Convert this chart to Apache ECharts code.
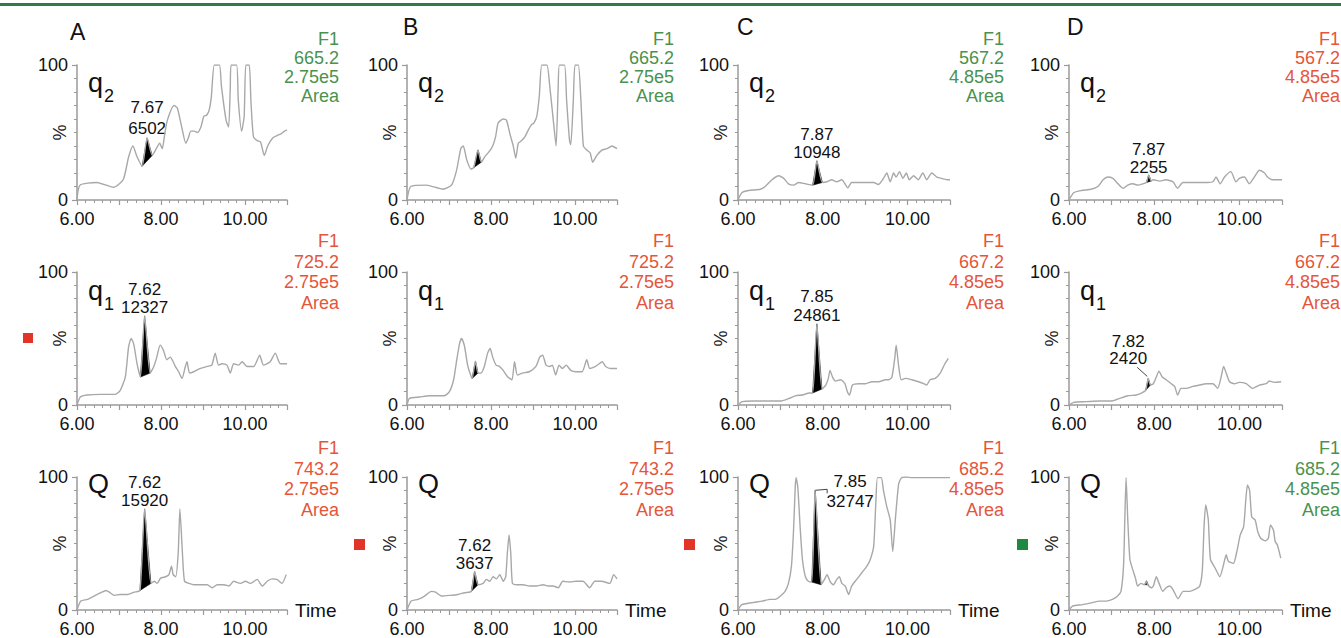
<!DOCTYPE html>
<html><head><meta charset="utf-8">
<script src="https://cdn.jsdelivr.net/npm/echarts@6/dist/echarts.min.js"></script>
<style>html,body{margin:0;padding:0;background:#fff}#chart{width:1341px;height:638px}</style>
</head><body><div id="chart"></div>
<script>
const FONT = '"Liberation Sans", Arial, Helvetica, sans-serif';

// ---- text / categories ----
const panelLetters = ['A', 'B', 'C', 'D'];
const traceMain = ['q', 'q', 'Q'];
const traceSub = ['2', '1', ''];
const timeTickLabels = ['6.00', '8.00', '10.00'];
const pctTickLabels = ['0', '100'];
const channel = 'F1';
const areaWord = 'Area';
const massA = ['665.2', '725.2', '743.2'];
const massB = ['665.2', '725.2', '743.2'];
const massC = ['567.2', '667.2', '685.2'];
const massD = ['567.2', '667.2', '685.2'];
const scaleA = ['2.75e5', '2.75e5', '2.75e5'];
const scaleB = ['2.75e5', '2.75e5', '2.75e5'];
const scaleC = ['4.85e5', '4.85e5', '4.85e5'];
const scaleD = ['4.85e5', '4.85e5', '4.85e5'];
const infoColA = ['g', 'r', 'r'];
const infoColB = ['g', 'r', 'r'];
const infoColC = ['g', 'r', 'r'];
const infoColD = ['r', 'r', 'g'];

// ---- chromatogram traces: [time (min), relative intensity %] ----
const A_q2 = [[6,0],[6.07,11],[6.47,13],[6.87,9.4],[7.1,15],[7.23,32],[7.33,40],[7.43,32],[7.55,25],[7.67,46],[7.79,33],[7.87,37],[7.97,42],[8.03,38],[8.09,49],[8.15,59],[8.31,70],[8.39,68],[8.5,53],[8.59,42],[8.65,46],[8.71,51],[8.79,51],[8.87,50],[8.95,54],[9.02,62],[9.09,63],[9.15,67],[9.2,77],[9.27,100],[9.39,100],[9.44,84],[9.55,59],[9.61,54],[9.65,84],[9.67,100],[9.8,100],[9.84,74],[9.92,51],[9.98,62],[10.02,100],[10.1,100],[10.14,74],[10.2,47],[10.29,44],[10.37,43],[10.46,33],[10.54,40],[10.66,46],[10.78,48],[10.86,49],[10.94,51],[11,52]];
const B_q2 = [[6,0],[6.09,10],[6.46,11],[6.86,8],[7.06,11],[7.18,22],[7.28,38],[7.34,40],[7.42,30],[7.52,23],[7.59,24],[7.69,37],[7.77,28],[7.85,32],[7.96,36],[8.04,40],[8.11,47],[8.17,57],[8.29,60],[8.37,59],[8.45,49],[8.53,40],[8.59,31],[8.65,42],[8.73,44],[8.81,47],[8.89,52],[8.97,56],[9.02,57],[9.09,62],[9.15,77],[9.21,100],[9.33,100],[9.4,84],[9.5,54],[9.55,40],[9.6,84],[9.63,100],[9.75,100],[9.8,74],[9.87,44],[9.9,41],[9.96,74],[10,100],[10.08,100],[10.14,74],[10.2,40],[10.28,37],[10.36,35],[10.42,28],[10.52,33],[10.64,37],[10.76,38],[10.88,40],[11,38]];
const C_q2 = [[6,0],[6.09,5.4],[6.25,7],[6.53,8],[6.64,10],[6.8,15],[6.96,18],[7.08,16],[7.19,12],[7.31,11],[7.43,13],[7.59,12],[7.76,11],[7.86,29],[7.99,13],[8.1,13.5],[8.21,15],[8.33,13.5],[8.45,15],[8.59,9],[8.68,13],[8.84,13],[9.0,13],[9.2,13],[9.31,11.5],[9.43,16],[9.51,20],[9.59,13.5],[9.67,20],[9.73,17],[9.81,21],[9.89,16],[9.97,20],[10.04,15],[10.14,18],[10.25,15],[10.36,20],[10.45,15],[10.57,20],[10.69,17],[10.8,16],[10.96,15],[11,15]];
const D_q2 = [[6,0],[6.11,5.4],[6.29,7],[6.52,8],[6.68,10],[6.8,15],[6.91,17],[7.03,16],[7.15,12],[7.27,8.6],[7.38,11],[7.5,12],[7.62,11],[7.73,12],[7.82,13],[7.87,18.5],[7.93,14],[7.97,15],[8.13,14],[8.28,15],[8.44,13.5],[8.55,8.6],[8.67,13],[8.83,13],[9.06,13],[9.26,13],[9.38,13.5],[9.45,17],[9.55,12],[9.65,17],[9.8,21],[9.92,13.5],[10,16],[10.12,17],[10.23,12],[10.35,17],[10.47,22],[10.59,20],[10.66,17],[10.78,15],[11,15]];
const A_q1 = [[6,0],[6.08,6],[6.24,7.5],[6.56,8],[6.91,8],[7.03,11],[7.15,21],[7.23,44],[7.29,50],[7.35,46],[7.43,31],[7.51,21],[7.61,67],[7.74,24],[7.83,29],[7.9,36],[7.98,45],[8.06,41],[8.14,34],[8.22,36],[8.29,32.5],[8.34,29],[8.42,25],[8.5,20],[8.58,29],[8.62,32.5],[8.68,24],[8.78,25],[8.94,27.5],[9.1,29],[9.21,30],[9.29,39],[9.37,30],[9.45,31],[9.57,30],[9.65,24],[9.73,31],[9.85,30],[9.93,32.5],[10.05,29],[10.21,29],[10.35,37.5],[10.44,30],[10.6,32.5],[10.72,39],[10.84,31],[11,31]];
const B_q1 = [[6,0],[6.06,5],[6.3,6],[6.54,7],[6.89,7],[7.01,10],[7.11,19],[7.17,31],[7.25,46],[7.3,50],[7.37,44],[7.45,29],[7.55,20],[7.63,33],[7.69,24],[7.76,24],[7.84,29],[7.92,39],[7.98,42.5],[8.04,36],[8.12,30],[8.2,29],[8.29,26],[8.4,21],[8.5,19],[8.56,32.5],[8.63,22.5],[8.75,24],[8.91,25],[9.07,29],[9.16,36],[9.23,37.5],[9.31,30],[9.4,29],[9.46,30],[9.54,22.5],[9.62,30],[9.7,27.5],[9.79,30],[9.9,26],[10.02,25],[10.17,25],[10.28,34],[10.35,27.5],[10.49,29],[10.65,32.5],[10.73,29],[10.85,27.5],[11,27.5]];
const C_q1 = [[6,0],[6.1,2.5],[6.35,3],[6.66,3],[7.02,3],[7.21,5],[7.37,7],[7.52,7.5],[7.68,9],[7.76,9],[7.86,61],[7.98,12],[8.07,15],[8.13,20],[8.17,26],[8.23,21],[8.3,18],[8.42,19],[8.52,16],[8.58,10],[8.63,7.5],[8.7,15],[8.85,16],[9.01,16],[9.16,17.5],[9.32,17.5],[9.48,19],[9.55,19],[9.63,21],[9.7,36],[9.73,45],[9.79,29],[9.85,19],[9.95,20],[10.1,19],[10.26,17.5],[10.38,16],[10.45,15],[10.53,19],[10.65,20],[10.77,24],[10.88,31],[10.96,35]];
const D_q1 = [[6,0],[6.11,2],[6.41,2.5],[6.72,3],[6.99,3],[7.19,5],[7.38,7],[7.58,7.5],[7.7,9],[7.8,11],[7.86,20],[7.91,15],[7.98,16],[8.05,21],[8.11,25.5],[8.19,21],[8.28,19],[8.4,16],[8.48,14],[8.55,7.5],[8.63,12.5],[8.75,12.5],[8.91,14],[9.06,15],[9.22,16],[9.38,16],[9.49,12.5],[9.57,21],[9.63,29],[9.69,24],[9.77,17.5],[9.88,16],[10,17],[10.16,16],[10.31,12.5],[10.47,15],[10.63,16],[10.7,18],[10.82,17],[10.98,17.5]];
const A_Q = [[6,0],[6.09,6.7],[6.25,8],[6.41,10.5],[6.57,13],[6.69,14.7],[6.77,13.4],[6.89,11],[7.04,11.7],[7.2,11.7],[7.36,13.4],[7.5,14.7],[7.61,76],[7.76,20],[7.84,21.6],[7.91,20],[7.99,24],[8.11,25],[8.19,26.6],[8.25,33],[8.29,26.6],[8.35,25],[8.41,43],[8.45,76],[8.51,43],[8.56,21.6],[8.67,20],[8.78,19],[8.94,19],[9.1,19],[9.22,16.7],[9.34,19],[9.5,19],[9.62,18],[9.73,21.6],[9.89,20],[10.01,21.6],[10.13,20],[10.29,23],[10.41,18],[10.53,21.6],[10.64,23.4],[10.76,23],[10.88,20],[10.98,26.6]];
const B_Q = [[6,0],[6.1,6.7],[6.26,8],[6.42,10.5],[6.58,14],[6.68,13.4],[6.82,10.5],[7.02,11],[7.21,11.7],[7.37,13],[7.53,14],[7.61,29],[7.69,19],[7.81,20],[7.89,23],[7.97,21.6],[8.05,25],[8.13,23.4],[8.21,26.6],[8.29,21.6],[8.35,25],[8.39,43],[8.43,56.5],[8.47,43],[8.51,20],[8.6,19],[8.76,19],[8.92,18],[9.08,18],[9.24,19],[9.36,18],[9.48,18],[9.6,16.7],[9.71,21.6],[9.87,21],[10.03,21.6],[10.19,21.6],[10.35,16.7],[10.47,21.6],[10.63,21.6],[10.83,20],[10.92,26.6],[11,23.4]];
const C_Q = [[6,0],[6.09,4],[6.33,5.5],[6.57,6.7],[6.76,8],[6.88,8],[7.0,10.5],[7.11,14],[7.19,20],[7.26,33],[7.31,60],[7.35,92.5],[7.37,99.5],[7.41,92.5],[7.47,60],[7.52,38],[7.59,25],[7.66,21.6],[7.74,21],[7.82,90],[7.96,19],[8.04,23],[8.1,26.6],[8.17,21.6],[8.25,19],[8.33,23],[8.39,25],[8.45,20],[8.53,18],[8.61,11.7],[8.68,18],[8.8,23],[8.92,28],[9.04,33],[9.12,38],[9.2,48],[9.25,80],[9.29,99.5],[9.38,99.5],[9.43,90],[9.51,77.6],[9.59,67.7],[9.65,44],[9.71,67.7],[9.79,95],[9.86,99.5],[9.98,100],[10.1,99.5],[11,99.5]];
const D_Q = [[6,0],[6.09,3],[6.31,4],[6.55,5.5],[6.71,6.7],[6.87,6.7],[7.02,8],[7.14,10.5],[7.22,14],[7.28,33],[7.31,67.7],[7.34,99.5],[7.38,67.7],[7.43,38],[7.5,30],[7.56,24],[7.61,18],[7.69,20],[7.77,19],[7.81,21.5],[7.85,19],[7.93,16.7],[7.98,18],[8.05,25],[8.11,20.4],[8.2,14],[8.28,16.7],[8.36,18],[8.44,15.4],[8.56,8.5],[8.68,14],[8.83,14],[8.99,16],[9.07,18],[9.13,30],[9.17,62.7],[9.21,79],[9.27,67.7],[9.32,38],[9.43,31.6],[9.54,25],[9.62,33],[9.69,41.5],[9.74,36.6],[9.86,35],[9.94,44],[10.02,56.5],[10.1,62.7],[10.15,82.6],[10.19,94],[10.24,90],[10.29,70],[10.37,67.7],[10.43,59],[10.5,54],[10.61,52],[10.68,54],[10.73,64],[10.8,60],[10.84,51.5],[10.89,49],[10.97,39]];

// ---- integrated (black) peaks: [t start, % start, t apex, % apex, t end, % end] ----
const peakA_q2 = [7.55,25, 7.67,46, 7.79,33];
const peakB_q2 = [7.59,24, 7.69,37, 7.77,28];
const peakC_q2 = [7.76,11, 7.86,29, 7.99,13];
const peakD_q2 = [7.82,13, 7.87,18.5, 7.93,14];
const peakA_q1 = [7.51,21, 7.61,67, 7.74,24];
const peakB_q1 = [7.55,20, 7.63,33, 7.69,24];
const peakC_q1 = [7.76,9, 7.86,61, 7.98,12];
const peakD_q1 = [7.8,11, 7.86,20, 7.91,15];
const peakA_Q = [7.5,14.7, 7.61,76, 7.76,20];
const peakB_Q = [7.53,14, 7.61,29, 7.69,19];
const peakC_Q = [7.74,21, 7.82,90, 7.96,19];
const peakD_Q = [7.79,19, 7.82,22, 7.86,19];

// ---- peak labels: [retention time, area] ----
const lblA_q2 = ['7.67', '6502'];
const lblC_q2 = ['7.87', '10948'];
const lblD_q2 = ['7.87', '2255'];
const lblA_q1 = ['7.62', '12327'];
const lblC_q1 = ['7.85', '24861'];
const lblD_q1 = ['7.82', '2420'];
const lblA_Q = ['7.62', '15920'];
const lblB_Q = ['7.62', '3637'];
const lblC_Q = ['7.85', '32747'];

// ---- layout ----
const colLeft = [77, 407, 738, 1069];
const colWidth = [210, 210, 212, 213];
const rowTop = [65, 272, 477];
const rowHeight = [135, 133, 134];
const infoRight = [339, 674, 1004, 1340];
const infoTop = [29, 231, 438];
const infoLH = [19, 20.5, 20.5];
const GREEN = '#4a924e', RED = '#e5553a';

const panels = [
  {c:0,r:0,d:A_q2,p:peakA_q2,l:lblA_q2,m:'top',lh:21},
  {c:1,r:0,d:B_q2,p:peakB_q2,l:null},
  {c:2,r:0,d:C_q2,p:peakC_q2,l:lblC_q2,m:'top',lh:18},
  {c:3,r:0,d:D_q2,p:peakD_q2,l:lblD_q2,m:'top',lh:18},
  {c:0,r:1,d:A_q1,p:peakA_q1,l:lblA_q1,m:'top',lh:18},
  {c:1,r:1,d:B_q1,p:peakB_q1,l:null},
  {c:2,r:1,d:C_q1,p:peakC_q1,l:lblC_q1,m:'top',lh:19},
  {c:3,r:1,d:D_q1,p:peakD_q1,l:lblD_q1,m:'left',lh:17},
  {c:0,r:2,d:A_Q,p:peakA_Q,l:lblA_Q,m:'top',lh:18},
  {c:1,r:2,d:B_Q,p:peakB_Q,l:lblB_Q,m:'top',lh:18},
  {c:2,r:2,d:C_Q,p:peakC_Q,l:lblC_Q,m:'right',lh:20},
  {c:3,r:2,d:D_Q,p:peakD_Q,l:null}
];
const masses = [massA, massB, massC, massD];
const scales = [scaleA, scaleB, scaleC, scaleD];
const infoCols = [infoColA, infoColB, infoColC, infoColD];

function peakRenderer(lines, mode, lh) {
  return function (params, api) {
    const a = api.coord([api.value(0), api.value(1)]);
    const b = api.coord([api.value(2), api.value(3)]);
    const c = api.coord([api.value(4), api.value(5)]);
    const ch = [{type:'polygon', shape:{points:[a,b,c]}, style:{fill:'#000', stroke:'#000', lineWidth:0.6}}];
    if (lines) {
      let tx = b[0], ty = b[1] + 1, va = 'bottom';
      if (mode === 'left') {
        tx = b[0] - 20; ty = b[1] - 11;
        ch.push({type:'line', shape:{x1:b[0]-11, y1:b[1]-11, x2:b[0]-1, y2:b[1]-2}, style:{stroke:'#444', lineWidth:1}});
      } else if (mode === 'right') {
        tx = b[0] + 35; ty = b[1] + 1; va = 'middle';
        ch.push({type:'polyline', shape:{points:[[b[0], b[1]], [b[0]+12, b[1]-1], [b[0]+12, b[1]+3]]}, style:{stroke:'#444', lineWidth:1, fill:null}});
      }
      ch.push({type:'text', style:{text: lines.join('\n'), x: tx, y: ty, align:'center', verticalAlign: va,
        fontSize: 17, fontFamily: FONT, lineHeight: lh, fill:'#111'}});
    }
    return {type:'group', children: ch};
  };
}

const grid = [], xAxis = [], yAxis = [], series = [], graphic = [];
const axisColor = '#9a9a9a';
panels.forEach((P, i) => {
  grid.push({left: colLeft[P.c], top: rowTop[P.r], width: colWidth[P.c], height: rowHeight[P.r]});
  xAxis.push({
    gridIndex: i, type: 'value', min: 6, max: 11, interval: 1,
    axisLine: {show: true, onZero: false, lineStyle: {color: axisColor, width: 1.5}},
    axisTick: {show: true, length: 5, lineStyle: {color: axisColor, width: 1.2}},
    minorTick: {show: true, splitNumber: 5, length: 3, lineStyle: {color: axisColor}},
    splitLine: {show: false},
    axisLabel: {
      formatter: v => timeTickLabels.find(s => Math.abs(parseFloat(s) - v) < 1e-9) || '',
      fontSize: 18, fontFamily: FONT, color: '#111', margin: 10, showMaxLabel: true
    },
    name: P.r === 2 ? 'Time' : '', nameLocation: 'end', nameGap: 8, nameMoveOverlap: false,
    nameTextStyle: {fontSize: 19, fontFamily: FONT, color: '#111', verticalAlign: 'middle', align: 'left'}
  });
  yAxis.push({
    gridIndex: i, type: 'value', min: 0, max: 100, interval: 100,
    axisLine: {show: true, lineStyle: {color: axisColor, width: 1.5}},
    axisTick: {show: true, length: 5, lineStyle: {color: axisColor, width: 1.2}},
    minorTick: {show: true, splitNumber: 10, length: 3, lineStyle: {color: axisColor}},
    splitLine: {show: false},
    axisLabel: {
      formatter: v => pctTickLabels.find(s => parseFloat(s) === v) || '',
      fontSize: 18, fontFamily: FONT, color: '#111', margin: 9
    },
    name: '%', nameLocation: 'middle', nameRotate: 90, nameGap: 8, nameMoveOverlap: false,
    nameTextStyle: {fontSize: 18, fontFamily: FONT, color: '#222'}
  });
  series.push({
    type: 'line', xAxisIndex: i, yAxisIndex: i, data: P.d, showSymbol: false, smooth: 0.2,
    lineStyle: {color: '#a8a8a8', width: 1.4}, silent: true, animation: false
  });
  series.push({
    type: 'custom', xAxisIndex: i, yAxisIndex: i, data: [P.p], clip: false,
    encode: {x: [0, 2, 4], y: [1, 3, 5]},
    renderItem: peakRenderer(P.l, P.m, P.lh), silent: true, animation: false
  });
  // trace name q2 / q1 / Q
  const mainY = [rowTop[0] + 17.6, rowTop[1] + 18.6, rowTop[2] + 6.6][P.r];
  const lx = colLeft[P.c] + 11;
  graphic.push({type: 'text', x: lx, y: mainY, style: {text: traceMain[P.r], fontSize: 27, fontFamily: FONT, fill: '#111', verticalAlign: 'middle', align: 'left'}});
  if (traceSub[P.r]) {
    graphic.push({type: 'text', x: lx + 16, y: mainY + 13, style: {text: traceSub[P.r], fontSize: 18, fontFamily: FONT, fill: '#111', verticalAlign: 'middle', align: 'left'}});
  }
  // channel info block
  const col = infoCols[P.c][P.r] === 'g' ? GREEN : RED;
  graphic.push({type: 'text', x: infoRight[P.c], y: infoTop[P.r], style: {
    text: [channel, masses[P.c][P.r], scales[P.c][P.r], areaWord].join('\n'),
    fontSize: 18, fontFamily: FONT, fill: col, align: 'right', verticalAlign: 'top', lineHeight: infoLH[P.r]}});
});

// panel letters
const letterX = [70, 403, 737, 1067];
const letterY = [32, 27, 27, 27];
panelLetters.forEach((t, k) => graphic.push({type: 'text', x: letterX[k], y: letterY[k], style: {text: t, fontSize: 23, fontFamily: FONT, fill: '#111', verticalAlign: 'middle', align: 'left'}}));
// top rule
graphic.push({type: 'rect', shape: {x: 0, y: 3, width: 1341, height: 3}, style: {fill: '#2f7a45'}});
// selection squares
graphic.push({type: 'rect', shape: {x: 23, y: 333, width: 10, height: 10}, style: {fill: '#e3342a'}});
graphic.push({type: 'rect', shape: {x: 354, y: 539, width: 11, height: 11}, style: {fill: '#e3342a'}});
graphic.push({type: 'rect', shape: {x: 684, y: 539, width: 11, height: 11}, style: {fill: '#e3342a'}});
graphic.push({type: 'rect', shape: {x: 1017, y: 539, width: 11, height: 11}, style: {fill: '#1f8a3f'}});

const chart = echarts.init(document.getElementById('chart'), null, {renderer: 'svg'});
chart.setOption({animation: false, backgroundColor: '#fff', grid, xAxis, yAxis, series, graphic});
</script></body></html>
